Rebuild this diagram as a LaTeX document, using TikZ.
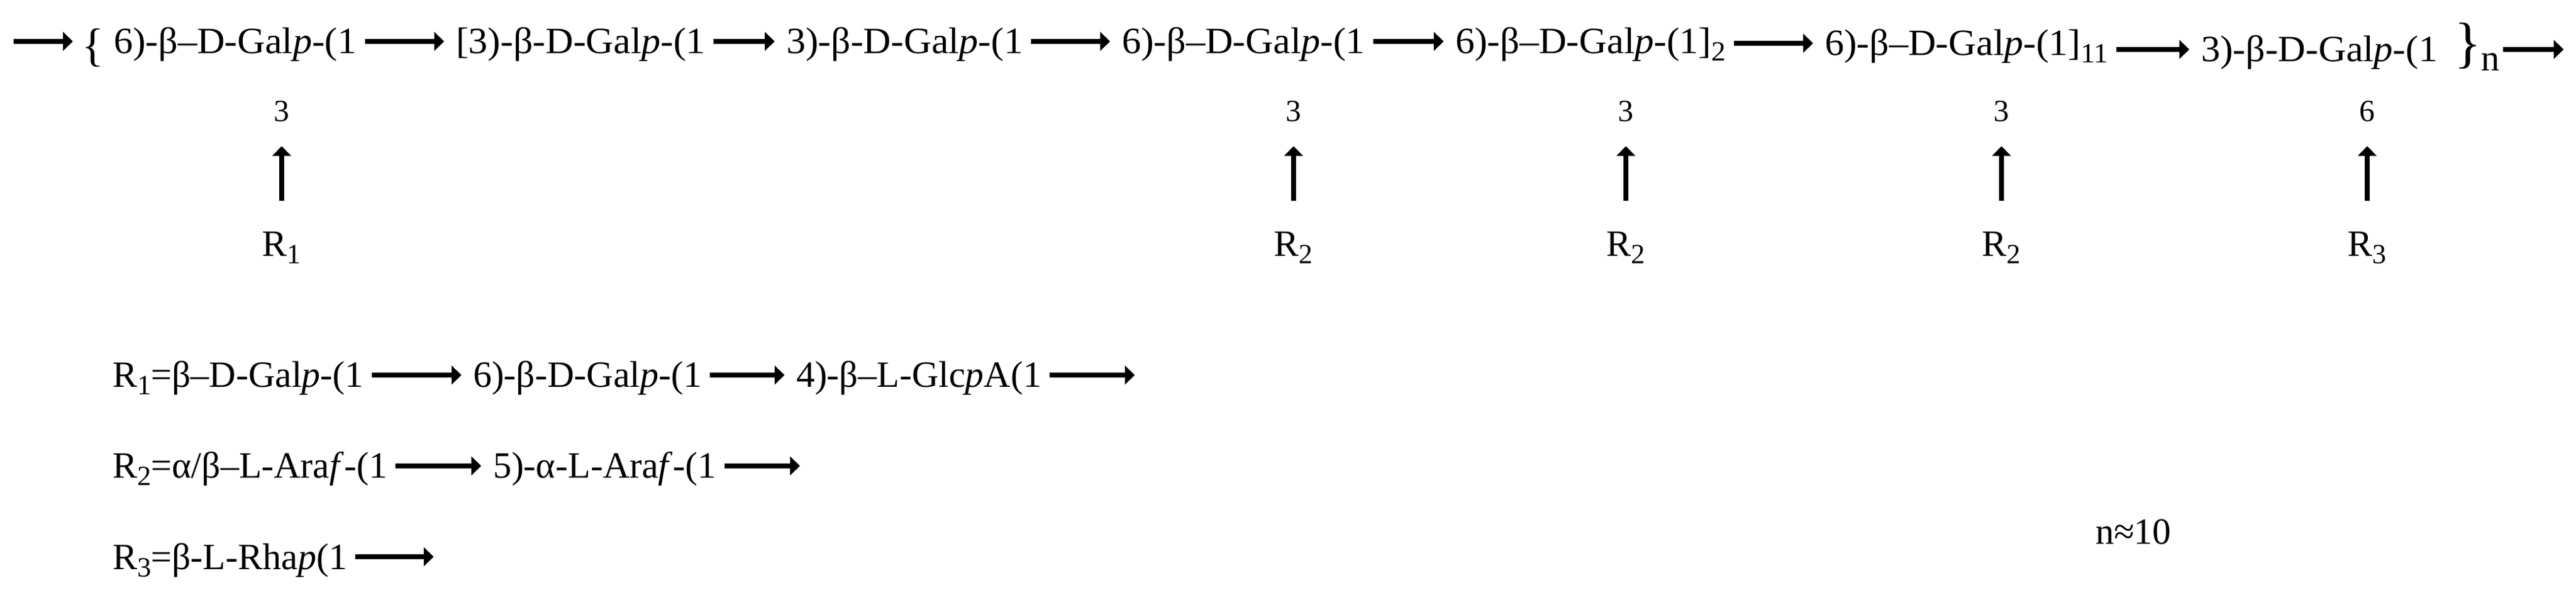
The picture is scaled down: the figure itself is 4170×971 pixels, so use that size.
\documentclass[tikz,border=0pt]{standalone}
\usepackage{fontspec}
\setmainfont{Liberation Serif}
\newfontfamily\widefont{Liberation Serif}[FakeStretch=1.035]
\usetikzlibrary{arrows.meta}

\newcommand\subidx[1]{\raisebox{-2.4pt}{\fontsize{9}{9}\selectfont #1}}

\begin{document}
\begin{tikzpicture}[x=0.2pt, y=-0.2pt,
    every node/.style={inner sep=0, font=\fontsize{12}{14}\selectfont},
    res/.style={anchor=base west, text height=9.5pt, text depth=1.5pt},
    top/.style={res, font=\widefont\fontsize{12}{14}\selectfont},
    num/.style={anchor=base, font=\fontsize{10}{12}\selectfont},
    rlab/.style={anchor=base},
    arr/.style={-{Triangle[length=3.2pt, width=6pt]}, line width=1.6pt},
    link/.style={arr, shorten <=2.4pt, shorten >=3.6pt},
    up/.style={arr, shorten <=10pt, shorten >=7.6pt}
  ]
  \useasboundingbox (0,0) rectangle (4170,971);

  % backbone
  \coordinate (in) at (22,67);
  \node[font=\fontsize{15}{15}\selectfont] (open) at (150,78) {\{};
  \node[top] (r1) at (183,87) {6)-β–D-Gal\textit{p}-(1};
  \node[top] (r2) at (737,87) {[3)-β-D-Gal\textit{p}-(1};
  \node[top] (r3) at (1272,87) {3)-β-D-Gal\textit{p}-(1};
  \node[top] (r4) at (1815,87) {6)-β–D-Gal\textit{p}-(1};
  \node[top] (r5) at (2355,87) {6)-β–D-Gal\textit{p}-(1]\subidx{2}};
  \node[top] (r6) at (2953,90) {6)-β–D-Gal\textit{p}-(1]\subidx{11}};
  \node[top] (r7) at (3562,100) {3)-β-D-Gal\textit{p}-(1};
  \node[anchor=base west] (close) at (3972,100)
    {{\fontsize{18}{18}\selectfont\}}\raisebox{-3pt}{n}};
  \coordinate (out) at (4150,80);

  \draw[arr, shorten >=2.6pt] (in) -- (in -| open.west);
  \foreach \a/\b in {r1/r2, r2/r3, r3/r4, r4/r5, r5/r6, r6/r7}
    \draw[link] (\a.east |- \b.west) -- (\b.west);
  \draw[arr, shorten <=1pt] (out -| close.east) -- (out);

  % branches
  \foreach \x/\p/\r [count=\i] in {456/3/1, 2094/3/2, 2632/3/2, 3240/3/2, 3832/6/3} {
    \node[num] (p\i) at (\x,197) {\p};
    \node[rlab] (R\i) at (\x,415) {R\subidx{\r}};
    \draw[up] (R\i.north) -- (p\i.south);
  }

  % substituents
  \node[res] (a1) at (181,627) {R\subidx{1}=β–D-Gal\textit{p}-(1};
  \node[res] (a2) at (765,627) {6)-β-D-Gal\textit{p}-(1};
  \node[res] (a3) at (1288,627) {4)-β–L-Glc\textit{p}A(1};
  \coordinate (a4) at (1837,627);
  \node[res] (b1) at (181,774) {R\subidx{2}=α/β–L-Ara\textit{f}-(1};
  \node[res] (b2) at (797,774) {5)-α-L-Ara\textit{f}-(1};
  \coordinate (b3) at (1295,774);
  \node[res] (c1) at (181,921) {R\subidx{3}=β-L-Rha\textit{p}(1};
  \coordinate (c2) at (702,921);

  \draw[link] (a1.east) -- (a2.west);
  \draw[link] (a2.east) -- (a3.west);
  \draw[arr, shorten <=2.4pt] (a3.east) -- (a3.east -| a4);
  \draw[link] (b1.east) -- (b2.west);
  \draw[arr, shorten <=2.4pt] (b2.east) -- (b2.east -| b3);
  \draw[arr, shorten <=2.4pt] (c1.east) -- (c1.east -| c2);

  \node[anchor=base west] (nval) at (3391,880) {n≈10};
\end{tikzpicture}
\end{document}
